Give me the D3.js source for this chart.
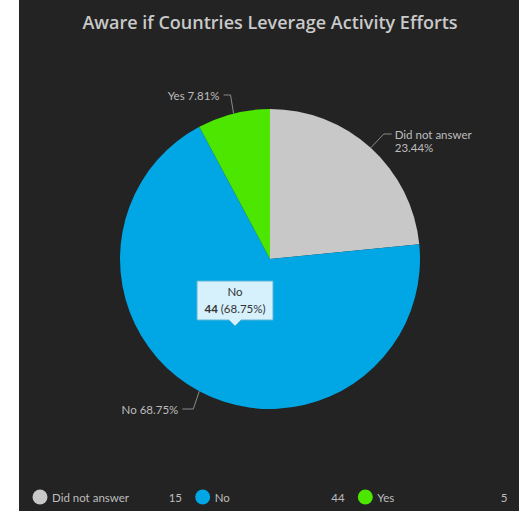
<!DOCTYPE html>
<html>
<head>
<meta charset="utf-8">
<script src="https://cdn.jsdelivr.net/npm/d3@7"></script>
<style>
  html, body { margin: 0; padding: 0; background: #ffffff; }
  svg { display: block; }
</style>
</head>
<body>
<div id="chart"></div>
<script>
// chart data
const categories = ['Did not answer', 'No', 'Yes'];
const counts = [15, 44, 5];
const sliceColors = ['#c8c8c8', '#00a7e4', '#4ce600'];
const title = 'Aware if Countries Leverage Activity Efforts';

const W = 519, H = 511;
const panelX = 19;
const cx = 270, cy = 259, radius = 150;
const total = d3.sum(counts);
const pct = v => (v / total * 100).toFixed(2) + '%';

const svg = d3.select('#chart').append('svg')
    .attr('width', W)
    .attr('height', H)
    .style('font-family', 'Lato, "Open Sans", sans-serif');

// dark panel
svg.append('rect')
    .attr('x', panelX).attr('y', 0)
    .attr('width', W - panelX).attr('height', H)
    .attr('fill', '#232323');

svg.append('text')
    .attr('x', 270).attr('y', 29)
    .attr('text-anchor', 'middle')
    .style('font-family', '"Open Sans", sans-serif')
    .style('font-weight', 600)
    .style('font-size', '18px')
    .attr('fill', '#c9c9c9')
    .text(title);

const pie = d3.pie().sort(null).value(d => d);
const arcs = pie(counts);
const arc = d3.arc().innerRadius(0).outerRadius(radius);

const g = svg.append('g').attr('transform', `translate(${cx},${cy})`);
g.selectAll('path')
    .data(arcs)
    .enter().append('path')
    .attr('d', arc)
    .attr('fill', (d, i) => sliceColors[i]);

// outside labels with leader lines from slice midpoints
const labelColor = '#bdbdbd';
const lineColor = '#8a8a8a';
const midPoint = d => {
    const a = (d.startAngle + d.endAngle) / 2;
    return [cx + radius * Math.sin(a), cy - radius * Math.cos(a)];
};

function leader(pts) {
    svg.append('polyline')
        .attr('points', pts.map(p => p.join(',')).join(' '))
        .attr('fill', 'none')
        .attr('stroke', lineColor)
        .attr('stroke-width', 1);
}

// Did not answer (right side)
{
    const p = midPoint(arcs[0]);
    leader([p, [p[0] + 13, 134], [p[0] + 21, 134]]);
    const t = svg.append('text')
        .attr('x', p[0] + 24).attr('y', 139)
        .attr('fill', labelColor).style('font-size', '11.5px');
    t.append('tspan').text(categories[0]);
    t.append('tspan').attr('x', p[0] + 24).attr('dy', 13).text(pct(counts[0]));
}
// Yes (top left)
{
    const p = midPoint(arcs[2]);
    leader([p, [p[0] - 3, 95], [p[0] - 10, 95]]);
    svg.append('text')
        .attr('x', p[0] - 14).attr('y', 100)
        .attr('text-anchor', 'end')
        .attr('fill', labelColor).style('font-size', '11.5px')
        .text(`${categories[2]} ${pct(counts[2])}`);
}
// No (bottom left)
{
    const p = midPoint(arcs[1]);
    leader([p, [p[0] - 6, 409], [p[0] - 17, 409]]);
    svg.append('text')
        .attr('x', p[0] - 21).attr('y', 414)
        .attr('text-anchor', 'end')
        .attr('fill', labelColor).style('font-size', '11.5px')
        .text(`${categories[1]} ${pct(counts[1])}`);
}

// tooltip on the "No" slice
{
    const bx = 197, by = 281, bw = 76, bh = 39, tipX = 235;
    const tip = svg.append('g');
    tip.append('path')
        .attr('d', `M${bx},${by} H${bx + bw} V${by + bh} H${tipX + 6} L${tipX},${by + bh + 6} L${tipX - 6},${by + bh} H${bx} Z`)
        .attr('fill', '#d6f1fc')
        .attr('stroke', '#5fb4d6')
        .attr('stroke-width', 1);
    tip.append('text')
        .attr('x', bx + bw / 2).attr('y', by + 15)
        .attr('text-anchor', 'middle')
        .attr('fill', '#333').style('font-size', '11.5px')
        .text(categories[1]);
    const t2 = tip.append('text')
        .attr('x', bx + bw / 2).attr('y', by + 32)
        .attr('text-anchor', 'middle')
        .attr('fill', '#333').style('font-size', '11.5px');
    t2.append('tspan').style('font-weight', 700).text(counts[1]);
    t2.append('tspan').text(` (${pct(counts[1])})`);
}

// legend
const legendX = d3.scaleBand().domain(categories).range([32, 520]);
const legend = svg.append('g').selectAll('g')
    .data(categories)
    .enter().append('g')
    .attr('transform', d => `translate(${legendX(d)},497)`);
legend.append('circle')
    .attr('cx', 8).attr('cy', 0).attr('r', 7.5)
    .attr('fill', (d, i) => sliceColors[i]);
legend.append('text')
    .attr('x', 20).attr('y', 4.5)
    .attr('fill', labelColor).style('font-size', '11.5px')
    .text(d => d);
legend.append('text')
    .attr('x', 150).attr('y', 4.5)
    .attr('text-anchor', 'end')
    .attr('fill', labelColor).style('font-size', '11.5px')
    .text((d, i) => counts[i]);
</script>
</body>
</html>
